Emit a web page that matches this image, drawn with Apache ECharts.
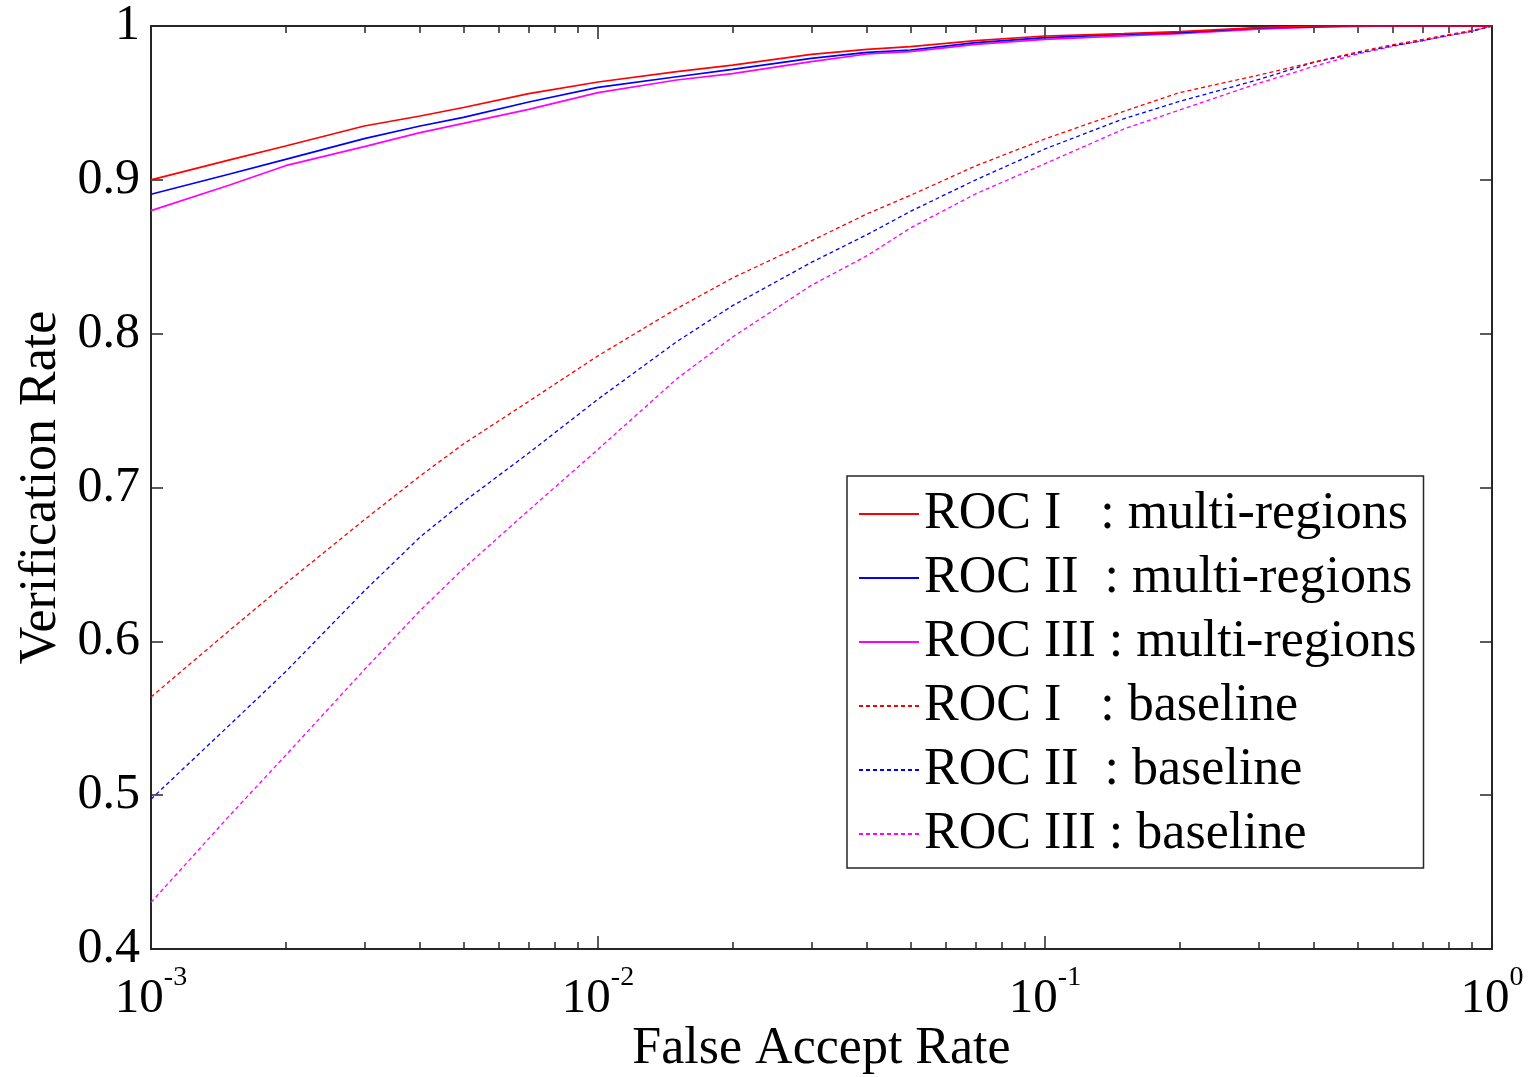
<!DOCTYPE html>
<html><head><meta charset="utf-8">
<script src="https://cdn.jsdelivr.net/npm/echarts@6/dist/echarts.min.js"></script>
<style>html,body{margin:0;padding:0;background:#fff}#c{width:1535px;height:1077px}</style>
</head><body><div id="c"></div>
<script>
// False accept rate sample points (x axis, log scale)
const far = [0.001, 0.0015, 0.002, 0.003, 0.004, 0.005, 0.007, 0.01, 0.015, 0.02, 0.03, 0.04, 0.05, 0.07, 0.1, 0.15, 0.2, 0.3, 0.4, 0.5, 0.6, 0.7, 0.8, 0.9, 1];
// Verification rates
const rocIMulti   = [0.900, 0.913, 0.922, 0.935, 0.9415, 0.947, 0.956, 0.9636, 0.9703, 0.9746, 0.9816, 0.9848, 0.9866, 0.9905, 0.9935, 0.995, 0.9963, 0.999, 1.0, 1.0, 1.0, 1.0, 1.0, 1.0, 1.0];
const rocIIMulti  = [0.8906, 0.9038, 0.9133, 0.9268, 0.935, 0.9406, 0.9506, 0.9601, 0.967, 0.9718, 0.979, 0.9829, 0.9844, 0.9892, 0.9924, 0.9945, 0.9957, 0.9987, 0.9995, 1.0, 1.0, 1.0, 1.0, 1.0, 1.0];
const rocIIIMulti = [0.880, 0.8966, 0.9092, 0.9216, 0.9307, 0.9367, 0.9458, 0.9567, 0.9649, 0.969, 0.9768, 0.9818, 0.9833, 0.988, 0.9913, 0.9935, 0.995, 0.998, 0.9993, 0.9998, 1.0, 1.0, 1.0, 1.0, 1.0];
const rocIBase    = [0.5638, 0.6072, 0.6375, 0.679, 0.7075, 0.7283, 0.756, 0.7856, 0.8163, 0.8362, 0.8603, 0.8779, 0.8899, 0.9091, 0.9266, 0.9445, 0.9567, 0.968, 0.9766, 0.9831, 0.9879, 0.9913, 0.9944, 0.997, 1.0];
const rocIIBase   = [0.4974, 0.5457, 0.5802, 0.6327, 0.6678, 0.6906, 0.7224, 0.7574, 0.7948, 0.8182, 0.8463, 0.8644, 0.8795, 0.9, 0.9201, 0.9397, 0.951, 0.9651, 0.9764, 0.9824, 0.9872, 0.9905, 0.994, 0.9965, 1.0];
const rocIIIBase  = [0.4303, 0.4868, 0.5258, 0.5815, 0.620, 0.6473, 0.6852, 0.7248, 0.7706, 0.7978, 0.8314, 0.8507, 0.8687, 0.8909, 0.9105, 0.933, 0.9454, 0.9627, 0.9738, 0.9818, 0.9868, 0.9905, 0.9937, 0.9965, 1.0];

const seriesNames = [
  'ROC I   : multi-regions',
  'ROC II  : multi-regions',
  'ROC III : multi-regions',
  'ROC I   : baseline',
  'ROC II  : baseline',
  'ROC III : baseline'
];
const seriesValues = [rocIMulti, rocIIMulti, rocIIIMulti, rocIBase, rocIIBase, rocIIIBase];
const seriesColors = ['#ff0000', '#0000ff', '#ff00ff', '#ff0000', '#0000ff', '#ff00ff'];
const seriesDashed = [false, false, false, true, true, true];

// Tick positions
const majorXTicks = [0.001, 0.01, 0.1, 1];
const minorXTicks = [0.002,0.003,0.004,0.005,0.006,0.007,0.008,0.009,
                     0.02,0.03,0.04,0.05,0.06,0.07,0.08,0.09,
                     0.2,0.3,0.4,0.5,0.6,0.7,0.8,0.9];
const yMin = 0.4, yMax = 1, yStep = 0.1;
const xTitle = 'False Accept Rate';
const yTitle = 'Verification Rate';

const FONT = 'Liberation Serif';
const AX = '#262626';

function logAxis(extra) {
  return Object.assign({
    type: 'log', logBase: 10, min: 0.001, max: 1, gridIndex: 0,
    splitLine: { show: false },
    axisLine: { show: false },
    axisLabel: { show: false },
    axisTick: { show: false }
  }, extra);
}

const xAxes = [
  logAxis({
    position: 'bottom',
    axisLine: { show: true, lineStyle: { color: AX, width: 2 } },
    axisTick: { show: true, inside: true, length: 13, customValues: majorXTicks, lineStyle: { color: AX, width: 1.5 } },
    axisLabel: {
      show: true, customValues: majorXTicks, margin: 15, color: '#000',
      formatter: function (v) { return '{b|10}{s|' + Math.round(Math.log10(v)) + '}'; },
      rich: {
        b: { fontFamily: FONT, fontSize: 49, lineHeight: 60, verticalAlign: 'bottom', color: '#000' },
        s: { fontFamily: FONT, fontSize: 28, lineHeight: 20, verticalAlign: 'top', color: '#000' }
      }
    },
    name: xTitle, nameLocation: 'middle', nameGap: 74, nameMoveOverlap: false,
    nameTextStyle: { fontFamily: FONT, fontSize: 52, color: '#000' }
  }),
  logAxis({
    position: 'bottom',
    axisTick: { show: true, inside: true, length: 7, customValues: minorXTicks, lineStyle: { color: AX, width: 1.5 } }
  }),
  logAxis({
    position: 'top',
    axisLine: { show: true, lineStyle: { color: AX, width: 2 } },
    axisTick: { show: true, inside: true, length: 13, customValues: majorXTicks, lineStyle: { color: AX, width: 1.5 } }
  }),
  logAxis({
    position: 'top',
    axisTick: { show: true, inside: true, length: 7, customValues: minorXTicks, lineStyle: { color: AX, width: 1.5 } }
  })
];

const yAxes = [
  {
    type: 'value', position: 'left', min: yMin, max: yMax, interval: yStep,
    splitLine: { show: false },
    axisLine: { show: true, lineStyle: { color: AX, width: 2 } },
    axisTick: { show: true, inside: true, length: 12, lineStyle: { color: AX, width: 1.5 } },
    axisLabel: {
      margin: 11, color: '#000', fontFamily: FONT, fontSize: 50,
      formatter: function (v) { return Math.abs(v - 1) < 1e-9 ? '1' : v.toFixed(1); }
    },
    name: yTitle, nameLocation: 'middle', nameGap: 84, nameMoveOverlap: false,
    nameTextStyle: { fontFamily: FONT, fontSize: 52, color: '#000' }
  },
  {
    type: 'value', position: 'right', min: yMin, max: yMax, interval: yStep,
    splitLine: { show: false },
    axisLine: { show: true, lineStyle: { color: AX, width: 2 } },
    axisTick: { show: true, inside: true, length: 12, lineStyle: { color: AX, width: 1.5 } },
    axisLabel: { show: false }
  }
];

const series = seriesNames.map(function (name, k) {
  return {
    name: name, type: 'line', xAxisIndex: 0, yAxisIndex: 0,
    data: far.map(function (x, i) { return [x, seriesValues[k][i]]; }),
    symbol: 'none', smooth: false,
    lineStyle: { color: seriesColors[k], width: seriesDashed[k] ? 1.3 : 1.7, type: seriesDashed[k] ? [4, 3] : 'solid' },
    itemStyle: { color: seriesColors[k] },
    z: 10 - k
  };
});

const chart = echarts.init(document.getElementById('c'), null, { renderer: 'canvas' });
chart.setOption({
  animation: false,
  backgroundColor: '#fff',
  textStyle: { fontFamily: FONT },
  grid: { left: 151, right: 43, top: 26, bottom: 128, containLabel: false, outerBoundsMode: 'none' },
  xAxis: xAxes,
  yAxis: yAxes,
  legend: {
    orient: 'vertical', left: 847, top: 476,
    padding: [12, 7, 8, 11],
    itemGap: 12, itemWidth: 60, itemHeight: 14,
    borderColor: AX, borderWidth: 1.5, backgroundColor: '#fff',
    itemStyle: { opacity: 0 },
    textStyle: { fontFamily: FONT, fontSize: 52, lineHeight: 50, color: '#000' },
    data: seriesNames
  },
  series: series
});
</script>
</body></html>
